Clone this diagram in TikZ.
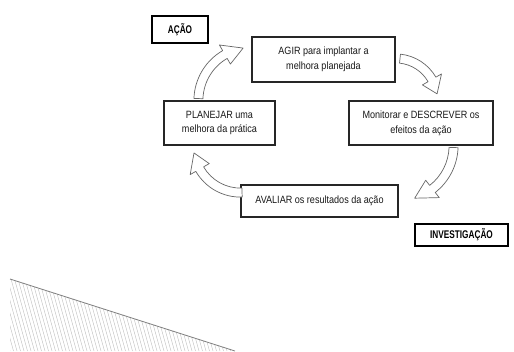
\documentclass[tikz,border=0pt]{standalone}
\usepackage{fontspec}
\setmainfont{Liberation Sans}[FakeStretch=0.86]
\newfontfamily\tagfont{Liberation Sans}[FakeStretch=0.74]
\usepackage{tikz}
\usetikzlibrary{positioning,calc}

% curved block arrow: centre, radius, start angle, end angle
\newcommand{\cyclearc}[4]{%
  \begin{scope}[shift={#1}]
    \draw[cyclearrow] (#3:{#2+4.5}) arc[start angle=#3, end angle=#4, radius={#2+4.5}]
      -- (#4:{#2+11}) -- ({#4+21}:#2) -- (#4:{#2-11}) -- (#4:{#2-4.5})
      arc[start angle=#4, end angle=#3, radius={#2-4.5}] -- cycle;
  \end{scope}}

\begin{document}
\begin{tikzpicture}[x=0.03cm,y=-0.03cm]
		\tikzstyle{stagebox}=[draw=black!85, line width=1pt, fill=white, align=center, inner sep=2pt, text=black!90, font=\fontsize{9}{12.5}\selectfont]
		\tikzstyle{tagbox}=[draw=black, line width=1.5pt, fill=white, inner sep=1pt, font=\tagfont\bfseries\fontsize{9.5}{11}\selectfont]
		\tikzset{cyclearrow/.style={draw=black!60, fill=white, line width=0.6pt, line join=round}}
		\tikzset{hatchline/.style={draw=black!25, line width=0.35pt}}
		\useasboundingbox (0,0) rectangle (514,351);
		\node[tagbox, minimum width=1.68cm, minimum height=0.81cm] (acao) at (180,29.5) {AÇÃO};
		\node[stagebox, minimum width=4.29cm, minimum height=1.35cm] (agir) at (323.5,59.5) {AGIR para implantar a\\melhora planejada};
		\node[stagebox, minimum width=3.33cm, minimum height=1.32cm] (planejar) at (219.5,123) {PLANEJAR uma\\melhora da prática};
		\node[stagebox, minimum width=4.32cm, minimum height=1.32cm] (monitorar) at (421,123) {Monitorar e DESCREVER os\\efeitos da ação};
		\node[stagebox, minimum width=4.71cm, minimum height=0.96cm] (avaliar) at (319.5,201) {AVALIAR os resultados da ação};
		\node[tagbox, minimum width=2.79cm, minimum height=0.66cm] (investigacao) at (461.5,235) {INVESTIGAÇÃO};
		\cyclearc{(agir.west |- planejar.north)}{53}{182}{240}
		\cyclearc{(agir.east |- monitorar.north)}{42}{276}{330}
		\cyclearc{(avaliar.east |- monitorar.south)}{55}{2}{52}
		\cyclearc{(avaliar.west |- planejar.south)}{47}{88}{150}
		% hatched wedge
		\begin{scope}
			\clip (10,279) -- (235,351) -- (10,351) -- cycle;
			\foreach \hx in {-24,-20.5,...,240} \draw[hatchline] (\hx,279) -- ++(20,72);
		\end{scope}
		\draw[draw=black!50, line width=0.7pt] (10,279) -- (235,351);
	\end{tikzpicture}
\end{document}
